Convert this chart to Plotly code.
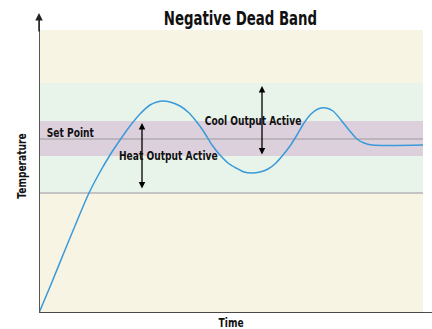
import plotly.graph_objects as go

# Process temperature over time (time and temperature in chart units)
time = [0, 13, 26, 38, 50, 61, 71, 81, 91, 101, 111, 118, 124, 131, 141, 149,
        157, 165, 173, 181, 189, 197, 205, 213, 221, 229, 237, 244, 251, 258,
        265, 272, 279, 287, 294, 302, 310, 318, 325, 333, 384]
temperature = [0, 31, 63, 92, 120, 141, 158, 173, 187, 199, 208, 211, 212, 211,
               207, 201, 192, 181, 168, 158, 150, 145, 141, 140, 141, 144, 150,
               158, 167, 178, 190, 199, 204, 205, 202, 193, 183, 174, 170, 168,
               168]

# Control bands
time_end = 384
ambient_top = 283
cool_band_top = 230
deadband_top = 192
set_point = 174
deadband_bottom = 157
heat_band_bottom = 120

# Output-active spans marked with double arrows: (time, low, high)
heat_span = (103, 123, 190)
cool_span = (223, 157, 227)

title = "Negative Dead Band"
x_label = "Time"
y_label = "Temperature"
set_label = "Set Point"
heat_label = "Heat Output Active"
cool_label = "Cool Output Active"

FONT = "DejaVu Sans Condensed, DejaVu Sans, sans-serif"

fig = go.Figure()

fig.add_trace(go.Scatter(
    x=time, y=temperature, mode="lines",
    line=dict(color="#3a9ad9", width=1.5, shape="spline", smoothing=0.8),
    hoverinfo="skip", showlegend=False,
))

shapes = [
    dict(type="rect", x0=0, x1=time_end, y0=0, y1=ambient_top,
         fillcolor="#f8f4e4", line_width=0, layer="below"),
    dict(type="rect", x0=0, x1=time_end, y0=heat_band_bottom, y1=cool_band_top,
         fillcolor="#e8f3ea", line_width=0, layer="below"),
    dict(type="rect", x0=0, x1=time_end, y0=deadband_bottom, y1=deadband_top,
         fillcolor="#dcd0dd", line_width=0, layer="below"),
    dict(type="line", x0=0, x1=time_end, y0=set_point, y1=set_point,
         line=dict(color="#9a9a9a", width=1), layer="below"),
    dict(type="line", x0=0, x1=time_end, y0=heat_band_bottom, y1=heat_band_bottom,
         line=dict(color="#c4c4c4", width=2), layer="below"),
    dict(type="line", x0=0, x1=393, y0=0, y1=0,
         line=dict(color="#111111", width=1.5)),
    dict(type="line", x0=0, x1=0, y0=0, y1=296,
         line=dict(color="#555555", width=2)),
]

annotations = [
    # y-axis arrow head
    dict(x=0, y=300, ax=0, ay=280, xref="x", yref="y", axref="x", ayref="y",
         showarrow=True, arrowhead=2, arrowsize=1, arrowwidth=1.5,
         arrowcolor="#222222", text=""),
]

for t, lo, hi in (heat_span, cool_span):
    annotations.append(dict(
        x=t, y=hi, ax=t, ay=lo, xref="x", yref="y", axref="x", ayref="y",
        showarrow=True, arrowhead=2, startarrowhead=2, arrowside="end+start",
        arrowsize=1, startarrowsize=1, arrowwidth=1.3, arrowcolor="#000000",
        text=""))


def label(text, x, y, size, ref="x", angle=0):
    return dict(x=x, y=y, xref=ref, yref=ref.replace("x", "y"),
                text=f"<b>{text}</b>", showarrow=False,
                xanchor="center", yanchor="middle", textangle=angle,
                font=dict(family=FONT, size=size, color="#111111"))


annotations += [
    label(title, 201, 295, 19),
    label(set_label, 31.5, 181, 13),
    label(heat_label, 129, 158, 13),
    label(cool_label, 213.5, 192.5, 13),
    label(x_label, 0.4885, -0.03, 13, ref="paper"),
    label(y_label, -0.046, 0.49, 13, ref="paper", angle=-90),
]

fig.update_layout(
    width=432, height=329,
    margin=dict(l=39, r=0, t=13, b=16),
    paper_bgcolor="white", plot_bgcolor="white",
    xaxis=dict(range=[0, 393], visible=False, fixedrange=True),
    yaxis=dict(range=[0, 300], visible=False, fixedrange=True),
    shapes=shapes, annotations=annotations,
    showlegend=False,
)

# Narrow the bold label lettering horizontally around each label's centre
condense_js = """
var gd = document.getElementById('{plot_id}');
gd.querySelectorAll('.annotation-text').forEach(function (t) {
  if (!t.textContent) { return; }
  var b = t.getBBox();
  var cx = b.x + b.width / 2;
  t.setAttribute('transform',
    'translate(' + cx + ',0) scale(0.78,1) translate(' + (-cx) + ',0)');
});
"""

fig.write_html("out.html", post_script=condense_js)
